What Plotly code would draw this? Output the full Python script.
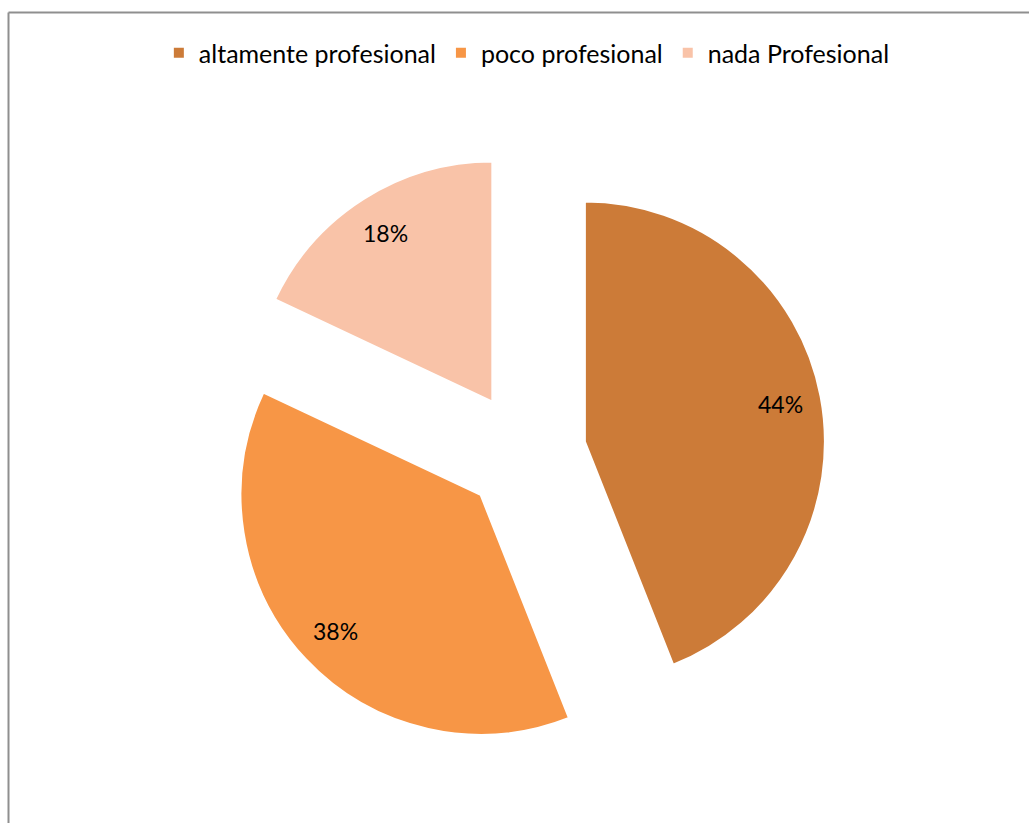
import math
import plotly.graph_objects as go

# Survey result: how professional the service is perceived to be
categories = ["altamente profesional", "poco profesional", "nada Profesional"]
shares = [44, 38, 18]
colors = ["#CC7B38", "#F79646", "#F9C3A8"]

W, H = 1029, 823
PULL = 0.254
DOM_X = [0.2177, 0.8027]
DOM_Y = [0.0838, 0.8153]
LABEL_RADIUS = 0.83  # percentage labels sit this far out along each slice bisector

fig = go.Figure(
    go.Pie(
        labels=categories,
        values=shares,
        sort=False,
        direction="clockwise",
        rotation=0,
        pull=[PULL] * len(shares),
        marker=dict(colors=colors, line=dict(color="white", width=2)),
        textinfo="none",
        hoverinfo="label+percent",
        domain=dict(x=DOM_X, y=DOM_Y),
    )
)

# percentage labels placed along each slice's bisector, following the pie's own geometry
cx = (DOM_X[0] + DOM_X[1]) / 2 * W
cy = (DOM_Y[0] + DOM_Y[1]) / 2 * H
r = min((DOM_X[1] - DOM_X[0]) * W, (DOM_Y[1] - DOM_Y[0]) * H) / 2 / (1 + PULL)
total = sum(shares)
start = 0.0
for v in shares:
    mid = math.radians((start + v / 2) / total * 360)
    dist = (PULL + LABEL_RADIUS) * r
    fig.add_annotation(
        x=(cx + dist * math.sin(mid)) / W,
        y=(cy + dist * math.cos(mid)) / H,
        xref="paper", yref="paper",
        xanchor="center", yanchor="middle",
        text=f"{v}%",
        showarrow=False,
        font=dict(family="Lato", size=23, color="black"),
    )
    start += v

# frame drawn along the top and left edges of the chart area
top = 1 - 12.5 / H
left = 8.5 / W
fig.add_shape(type="line", xref="paper", yref="paper", x0=left, x1=1, y0=top, y1=top,
              line=dict(color="#8f8f8f", width=2))
fig.add_shape(type="line", xref="paper", yref="paper", x0=left, x1=left, y0=0, y1=top,
              line=dict(color="#8f8f8f", width=2))

fig.update_layout(
    width=W,
    height=H,
    margin=dict(l=0, r=0, t=0, b=0),
    paper_bgcolor="white",
    plot_bgcolor="white",
    showlegend=True,
    legend=dict(
        orientation="h",
        x=0.512,
        xanchor="center",
        y=1 - 53 / H,
        yanchor="middle",
        font=dict(family="Lato", size=25, color="black"),
        itemclick=False,
    ),
)

fig.write_html("out.html")
